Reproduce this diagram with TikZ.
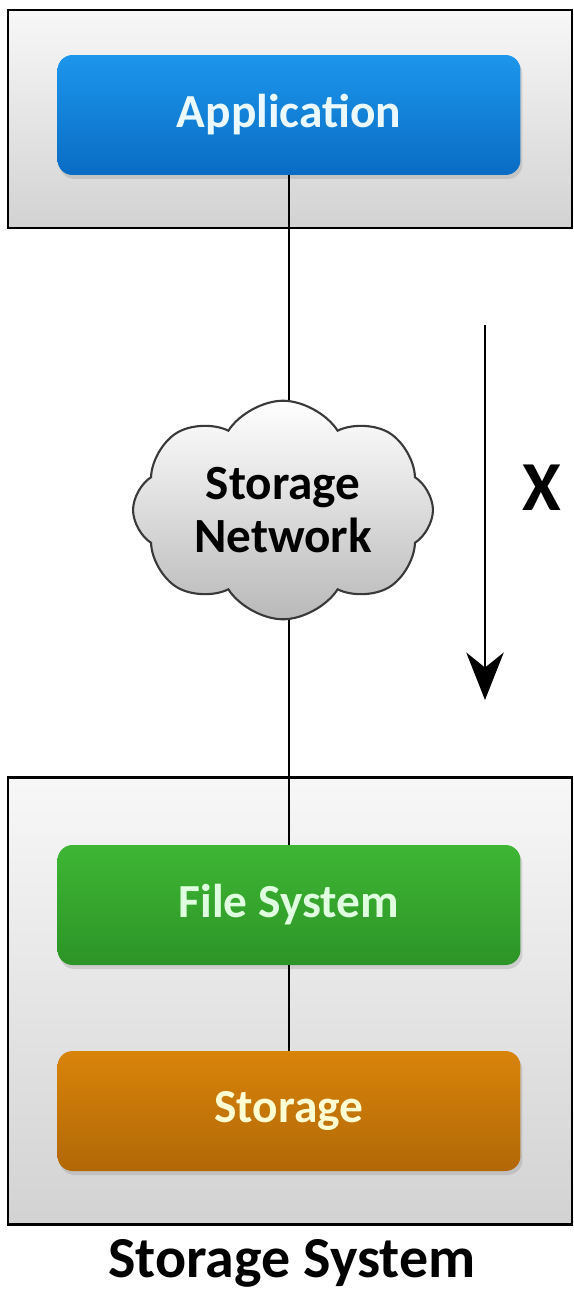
\documentclass[tikz,border=0pt]{standalone}
\usepackage{fontspec}
\setmainfont{Carlito}
\usepackage{tikz}
\usetikzlibrary{shapes.symbols}
\usetikzlibrary{shadows}
\usetikzlibrary{arrows.meta}

\definecolor{appTop}{RGB}{28,150,236}
\definecolor{appBot}{RGB}{10,108,196}
\definecolor{fsTop}{RGB}{62,182,52}
\definecolor{fsBot}{RGB}{44,148,38}
\definecolor{storeTop}{RGB}{216,132,10}
\definecolor{storeBot}{RGB}{178,104,6}

\begin{document}
\begin{tikzpicture}[x=0.02cm,y=-0.02cm,
    every node/.style={font=\bfseries},
    frame/.style={draw,line width=1.4pt,top color=gray!6,bottom color=gray!35,
        minimum width=11.28cm,inner sep=0pt},
    layer/.style={rounded corners=0.3cm,minimum width=9.26cm,minimum height=2.4cm,
        text=#1,font=\bfseries\fontsize{27}{29}\selectfont,
        drop shadow={opacity=0.25,shadow xshift=0.04cm,shadow yshift=-0.08cm}},
    link/.style={draw,line width=0.9pt}]
                \useasboundingbox (0,0) rectangle (574,1305);
                \node[frame,minimum height=4.36cm] (top) at (290,119) {};
                \node[frame,minimum height=8.94cm] (bottom) at (290,1001) {};

                \node[layer={cyan!8},top color=appTop,bottom color=appBot] (app) at (289,115) {Application};
                \node[layer={green!12},top color=fsTop,bottom color=fsBot] (fs) at (289,905) {File System};
                \node[layer={yellow!18},top color=storeTop,bottom color=storeBot] (store) at (289,1111) {Storage};

                \node[cloud,draw=gray!45!black,line width=1.2pt,cloud puffs=8,cloud puff arc=115,aspect=1.4,
                    minimum width=6.0cm,minimum height=4.15cm,inner sep=0pt,top color=white,bottom color=gray!55,
                    align=center,font=\bfseries\fontsize{28}{30}\selectfont] (net) at (283,510) {Storage\\Network};

                \draw[link] (app) -- (app |- net.north);
                \draw[link] (app |- net.south) -- (fs);
                \draw[link] (fs) -- (store);

                \coordinate (from) at (485,325);
                \coordinate (to) at (485,700);
                \draw[line width=0.9pt,-{Stealth[length=0.95cm,width=0.75cm,inset=0.3cm]}] (from) -- (to);
                \node[font=\bfseries\fontsize{40}{40}\selectfont] (cross) at (542,488) {X};

                \node[font=\bfseries\fontsize{33}{35}\selectfont] (title) at (292,1263) {Storage System};
            \end{tikzpicture}
\end{document}
